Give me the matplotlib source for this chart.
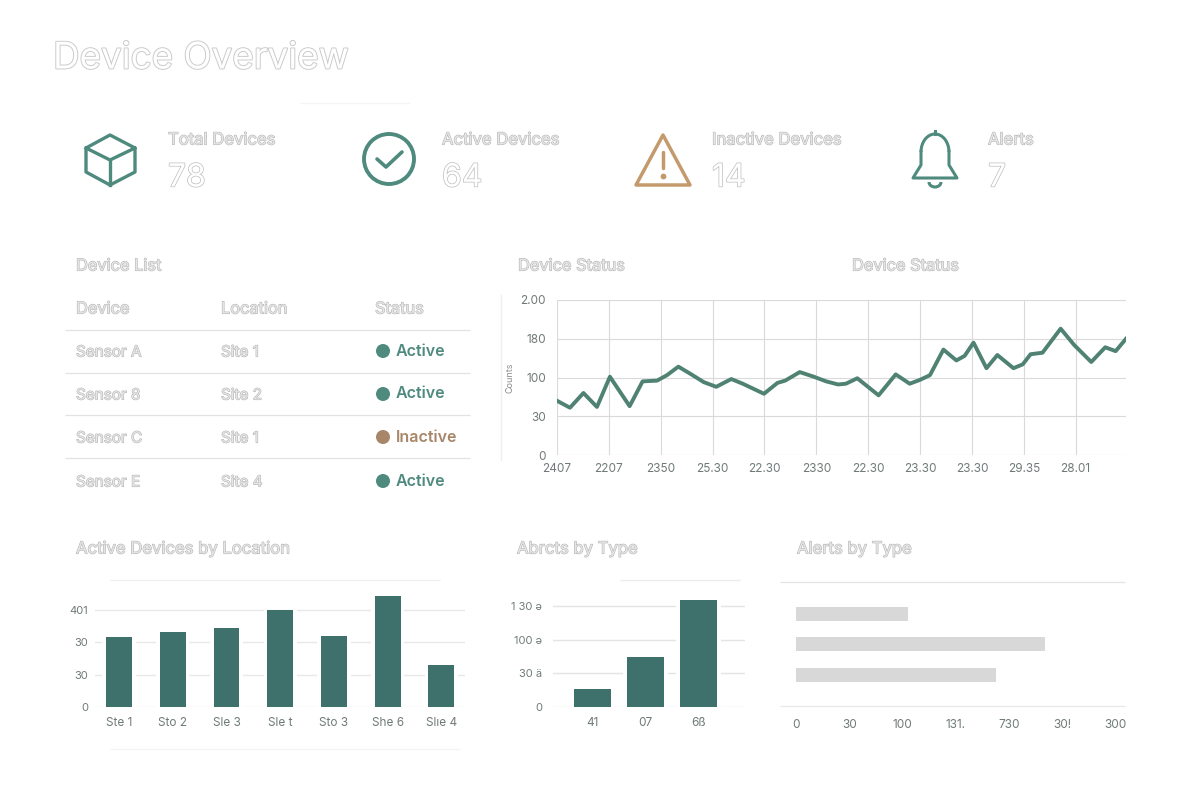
import matplotlib
matplotlib.use('Agg')
import matplotlib.pyplot as plt
import matplotlib.patheffects as pe
from matplotlib.patches import Circle, Polygon, Arc

plt.rcParams['font.family'] = ['Inter', 'DejaVu Sans']

W, H = 1200, 800
teal = '#4f8a7e'
line_col = '#4f8273'
bar_col = '#3f716c'
tan = '#c49a6c'
tick_col = '#6f7a78'

# line chart
line_x = [0, .25, .51, .77, 1.02, 1.40, 1.65, 1.93, 2.12, 2.34, 2.59, 2.83, 3.07, 3.36, 3.58,
          3.99, 4.25, 4.40, 4.68, 4.95, 5.19, 5.42, 5.57, 5.79, 6.20, 6.53, 6.80, 7.00, 7.19,
          7.45, 7.70, 7.86, 8.03, 8.28, 8.49, 8.80, 8.98, 9.13, 9.36, 9.71, 9.97, 10.30, 10.57,
          10.77, 10.97]
line_y = [70, 61, 80, 62, 101, 63, 95, 96, 103, 114, 104, 94, 88, 98, 92,
          79, 93, 96, 107, 101, 95, 91, 92, 99, 77, 104, 92, 97, 103,
          136, 122, 128, 145, 112, 129, 112, 117, 130, 132, 163, 142, 120, 139, 134, 150]
line_xlabels = ['2407', '2207', '2350', '25.30', '22.30', '2330', '22.30', '23.30', '23.30', '29.35', '28.01']
line_yticks = [0, 50, 100, 150, 200]
line_ylabels = ['0', '30', '100', '180', '2.00']

# location bars
sites = ['Ste 1', 'Sto 2', 'Sle 3', 'Sle t', 'Sto 3', 'She 6', 'Slıe 4']
site_vals = [72, 77, 82, 100, 73, 114, 43]
site_yticks = [0, 33.3, 66.7, 100]
site_ylabels = ['0', '30', '30', '401']

# alert bars
alert_cats = ['41', '07', '6ß']
alert_vals = [27, 75, 160]
alert_yticks = [0, 50, 100, 150]
alert_ylabels = ['0', '30 ä', '100 ə', '1 30 ə']

# horizontal bars
hbar_vals = [105, 234, 188]
hbar_xticks = [0, 50, 100, 150, 200, 250, 300]
hbar_xlabels = ['0', '30', '100', '131.', '730', '30!', '300']

# table
devices = ['Sensor A', 'Sensor 8', 'Sensor C', 'Sensor E']
locations = ['Site 1', 'Site 2', 'Site 1', 'Site 4']
statuses = ['Active', 'Active', 'Inactive', 'Active']

# summary cards
card_labels = ['Total Devices', 'Active Devices', 'Inactive Devices', 'Alerts']
card_values = ['78', '64', '14', '7']


fig = plt.figure(figsize=(12, 8), dpi=100, facecolor='white')


def px_axes(left, top, right, bottom):
    ax = fig.add_axes([left / W, 1 - bottom / H, (right - left) / W, (bottom - top) / H])
    ax.set_facecolor('none')
    for s in ax.spines.values():
        s.set_visible(False)
    ax.tick_params(length=0, labelsize=8.5, labelcolor=tick_col)
    return ax


# overlay in pixel coordinates for text, rules and icons
bg = fig.add_axes([0, 0, 1, 1])
bg.set_xlim(0, W)
bg.set_ylim(H, 0)
bg.axis('off')


def outlined(x, y, s, size, edge='#b4b4b4', lw=0.8, fill='#e6e6e6'):
    t = bg.text(x, y + 2, s, fontsize=size, color=fill, va='center', ha='left')
    t.set_path_effects([pe.withStroke(linewidth=lw, foreground=edge)])
    return t


def rule(x0, x1, y, color='#e2e2e2', lw=0.9):
    bg.plot([x0, x1], [y, y], color=color, lw=lw, solid_capstyle='butt')


outlined(53, 57, 'Device Overview', 26.5, edge='#c8c8c8', lw=1.3, fill='white')
rule(300, 410, 103, color='#f5f5f5')

# summary cards
card_x = [168, 442, 712, 988]
for x, lab, val in zip(card_x, card_labels, card_values):
    outlined(x, 138, lab, 12)
    outlined(x, 176, val, 23, edge='#bdbdbd', lw=1.0, fill='white')

# cube icon
bg.add_patch(Polygon([(110, 135), (135, 148), (135, 172), (110, 185), (86, 172), (86, 148)],
                     closed=True, fill=False, ec=teal, lw=2.4, joinstyle='round'))
bg.plot([86, 110, 135], [148, 160, 148], color=teal, lw=2.4)
bg.plot([110, 110], [160, 185], color=teal, lw=2.4)

# check icon
bg.add_patch(Circle((389, 159), 25, fill=False, ec=teal, lw=2.8))
bg.plot([377, 386, 402], [159, 167, 152], color=teal, lw=2.6, solid_capstyle='round', solid_joinstyle='round')

# warning icon
bg.add_patch(Polygon([(663, 135), (690, 185), (636, 185)], closed=True, fill=False, ec=tan, lw=2.5, joinstyle='round'))
bg.plot([663, 663], [152, 168], color=tan, lw=2.5, solid_capstyle='round')
bg.plot([663], [176], marker='o', ms=3.2, color=tan)

# bell icon
bg.add_patch(Arc((935, 152), 28, 36, theta1=180, theta2=360, ec=teal, lw=2.2))
bg.plot([921, 921, 913, 957, 949, 949], [152, 165, 178, 178, 165, 152], color=teal, lw=2.2,
        solid_joinstyle='round')
bg.plot([935, 935], [131, 134], color=teal, lw=2.2)
bg.add_patch(Arc((935, 182), 12, 10, theta1=0, theta2=180, ec=teal, lw=2.2))

# table
outlined(76, 264, 'Device List', 11.8)
outlined(76, 307, 'Device', 11.8)
outlined(221, 307, 'Location', 11.8)
outlined(375, 307, 'Status', 11.8)
for y in [330, 373, 415, 458]:
    rule(65, 470, y)
row_y = [351, 394, 437, 481]
for y, d, loc, st in zip(row_y, devices, locations, statuses):
    outlined(76, y - 1, d, 11)
    outlined(221, y - 1, loc, 11)
    c = teal if st == 'Active' else '#a8866a'
    bg.add_patch(Circle((383, y), 7, color=c, lw=0))
    bg.text(396, y, st, fontsize=11.5, color=c, va='center', ha='left', fontweight='semibold')

# titles
outlined(518, 264, 'Device Status', 11.8)
outlined(852, 264, 'Device Status', 11.8)
outlined(76, 547, 'Active Devices by Location', 12)
outlined(517, 547, 'Abrcts by Type', 12)
outlined(797, 547, 'Alerts by Type', 12)

bg.plot([501, 501], [295, 460], color='#efefef', lw=1)
rule(110, 440, 580, color='#efefef')
rule(110, 460, 749, color='#f4f4f4')
rule(620, 740, 580, color='#ebebeb')
rule(780, 1125, 582, color='#e4e4e4')
rule(780, 1125, 706, color='#e8e8e8')

# line chart
ax = px_axes(557, 300, 1126, 455)
ax.plot(line_x, line_y, color=line_col, lw=2.8, zorder=3, solid_joinstyle='round')
ax.set_xlim(0, 10.97)
ax.set_ylim(0, 200)
ax.set_xticks(range(len(line_xlabels)))
ax.set_xticklabels(line_xlabels)
ax.set_yticks(line_yticks)
ax.set_yticklabels(line_ylabels)
ax.grid(True, color='#dadada', lw=0.8)
ax.set_axisbelow(True)
ax.tick_params(axis='y', pad=8)
ax.tick_params(axis='x', pad=6)
ax.set_ylabel('Counts', fontsize=6.5, color='#8a8a8a', labelpad=4)

# location bars
ax = px_axes(95, 580, 465, 707)
xs = list(range(len(sites)))
ax.bar(xs, site_vals, width=0.62, color='white', zorder=2)
ax.bar(xs, site_vals, width=0.48, color=bar_col, zorder=3)
ax.set_xlim(-0.447, 6.44)
ax.set_ylim(0, 131)
ax.set_xticks(xs)
ax.set_xticklabels(sites)
ax.set_yticks(site_yticks)
ax.set_yticklabels(site_ylabels)
ax.grid(True, axis='y', color='#e8e8e8', lw=1)
ax.set_axisbelow(True)
ax.tick_params(axis='y', pad=5, labelsize=8)
ax.tick_params(axis='x', pad=7)

# alert bars
ax = px_axes(553, 580, 745, 707)
xs = list(range(len(alert_cats)))
ax.bar(xs, alert_vals, width=0.84, color='white', zorder=2)
ax.bar(xs, alert_vals, width=0.69, color=bar_col, zorder=3)
ax.set_xlim(-0.745, 2.88)
ax.set_ylim(0, 189.5)
ax.set_xticks(xs)
ax.set_xticklabels(alert_cats)
ax.set_yticks(alert_yticks)
ax.set_yticklabels(alert_ylabels)
ax.grid(True, axis='y', color='#e4e4e4', lw=1)
ax.set_axisbelow(True)
ax.tick_params(axis='y', pad=8, labelsize=8)
ax.tick_params(axis='x', pad=7)

# horizontal bars
ax = px_axes(796, 582, 1126, 706)
ys = list(range(len(hbar_vals)))
ax.barh(ys, hbar_vals, height=0.46, color='#d8d8d8', zorder=3)
ax.set_xlim(0, 310)
ax.set_ylim(3.02, -1.05)
ax.set_xticks(hbar_xticks)
ax.set_xticklabels(hbar_xlabels)
ax.set_yticks([])
ax.tick_params(axis='x', pad=9)

fig.savefig('out.png', dpi=100)
